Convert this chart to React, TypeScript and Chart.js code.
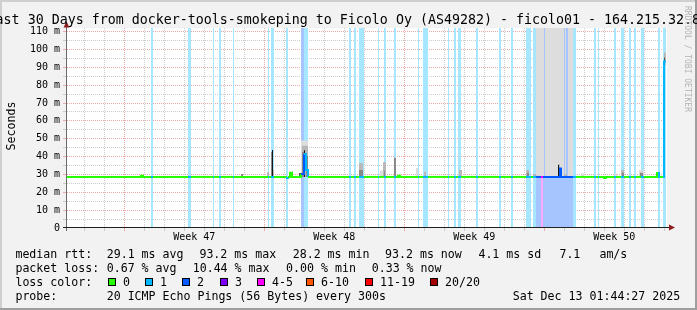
import { useEffect, useRef } from 'react';
import { Chart, registerables } from 'chart.js';

Chart.register(...registerables);

const W = 697;
const H = 310;
const MONO = '"DejaVu Sans Mono", "Liberation Mono", monospace';

// ---------------- texts ----------------
const titleText = 'Last 30 Days from docker-tools-smokeping to Ficolo Oy (AS49282) - ficolo01 - 164.215.32.8';
const yAxisTitle = 'Seconds';
const watermarkText = 'RRDTOOL / TOBI OETIKER';

// ---------------- axes ----------------
// x values are days since the start of the 30 day window
const X_MIN = 0;
const X_MAX = 30;
const Y_MIN = 0;
const Y_MAX = 112; // milliseconds
const firstMidnight = 0.865;
const sundayTicks = [2.865, 9.865, 16.865, 23.865];
const weekCenters = [6.365, 13.365, 20.365, 27.365];
const weekLabels = ['Week 47', 'Week 48', 'Week 49', 'Week 50'];
const yMajorValues = [0, 10, 20, 30, 40, 50, 60, 70, 80, 90, 100, 110];
const yMajorLabels = ['0', '10 m', '20 m', '30 m', '40 m', '50 m', '60 m', '70 m', '80 m', '90 m', '100 m', '110 m'];
const yMinorValues = [5, 15, 25, 35, 45, 55, 65, 75, 85, 95, 105];

// ---------------- loss colours ----------------
const lossLabels = ['0', '1', '2', '3', '4-5', '6-10', '11-19', '20/20'];
const lossColors = ['#26ff00', '#00b8ff', '#0059ff', '#7e00ff', '#ff00ff', '#ff5500', '#ff0000', '#a10000'];

// ---------------- packet loss periods (days) ----------------
const lossStart = [4.20, 6.05, 7.30, 7.60, 8.30, 10.05, 10.20, 10.95, 11.70, 11.85, 14.10, 14.35, 14.60, 15.55, 15.85, 16.35, 17.55, 17.80, 19.05, 19.35, 19.55, 20.45, 21.60, 22.20, 22.95, 23.30, 23.45, 23.70, 23.80, 25.30, 26.35, 26.55, 27.35, 27.70, 28.10, 28.35, 28.70, 29.55, 29.80];
const lossEnd = [4.30, 6.20, 7.35, 7.70, 8.35, 10.10, 10.35, 11.05, 11.85, 12.05, 14.20, 14.45, 14.85, 15.60, 15.95, 16.45, 17.60, 18.05, 19.10, 19.45, 19.70, 20.55, 21.70, 22.30, 23.20, 23.45, 23.70, 23.80, 25.30, 25.45, 26.45, 26.60, 27.45, 27.85, 28.20, 28.45, 28.85, 29.65, 29.95];
const lossLevel = [1, 1, 1, 1, 1, 1, 1, 1, 2, 1, 1, 1, 1, 1, 1, 1, 1, 1, 1, 1, 1, 1, 1, 1, 1, 1, 2, 4, 2, 1, 1, 1, 1, 1, 1, 1, 1, 1, 1];

// ---------------- median rtt (ms), stepwise ----------------
const medianTimes = [0, 3.70, 3.80, 10.95, 11.05, 11.15, 11.25, 11.70, 11.85, 11.95, 12.05, 16.55, 16.65, 24.65, 24.70, 26.85, 26.95, 29.50, 29.60, 29.85];
const medianValues = [28.6, 29.2, 28.6, 28.0, 28.6, 31.0, 28.6, 30.2, 41.4, 32.5, 28.6, 29.2, 28.6, 33.3, 28.6, 28.0, 28.6, 30.8, 28.6, 93.2];
const medianEnd = 29.95;

// ---------------- smoke (ping spread, ms) ----------------
const smokeStart = [8.70, 10.00, 10.20, 10.25, 10.30, 11.25, 11.60, 11.70, 11.75, 11.75, 11.85, 11.95, 14.60, 14.60, 15.65, 15.80, 15.85, 16.35, 17.45, 17.85, 19.60, 22.95, 23.00, 23.30, 23.45, 23.90, 24.90, 25.05, 24.55, 24.55, 24.85, 25.70, 27.40, 27.70, 27.75, 28.60, 28.65, 29.60, 29.85, 29.85, 29.85];
const smokeEnd = [8.80, 10.10, 10.25, 10.30, 10.35, 11.30, 11.70, 12.05, 12.05, 11.85, 11.90, 12.05, 14.80, 14.80, 15.80, 15.95, 15.90, 16.45, 17.55, 17.95, 19.75, 23.10, 23.10, 23.45, 23.85, 24.85, 24.95, 25.30, 24.65, 24.60, 25.00, 25.85, 27.50, 27.85, 27.85, 28.85, 28.80, 29.65, 29.90, 29.95, 29.90];
const smokeLo = [28.6, 28.6, 28.6, 28.6, 28.6, 28.6, 28.6, 28.6, 28.6, 28.6, 28.6, 28.6, 28.6, 28.6, 28.6, 28.6, 28.6, 28.6, 28.6, 28.6, 28.6, 28.6, 28.6, 28.6, 28.6, 28.6, 28.6, 28.6, 28.6, 28.6, 28.6, 28.6, 28.6, 28.6, 28.6, 28.6, 28.6, 28.6, 28.6, 91.0, 92.0];
const smokeHi = [30.2, 31.4, 42.6, 43.7, 32.5, 31.5, 30.8, 49.0, 46.0, 42.5, 43.5, 40.5, 36.2, 32.5, 32.2, 36.8, 32.0, 39.4, 33.6, 31.5, 32.5, 32.5, 31.0, 30.2, 112, 112, 112, 112, 35.8, 35.3, 30.3, 30.6, 30.6, 32.5, 31.0, 32.5, 31.0, 30.6, 93.0, 98.3, 95.5];
const smokeShade = [2, 1, 2, 4, 1, 4, 3, 0, 1, 2, 4, 2, 1, 2, 0, 1, 2, 2, 0, 1, 1, 1, 2, 1, 0, 0, 0, 0, 1, 4, 1, 0, 0, 1, 2, 0, 2, 4, 4, 1, 3];
const smokeColors = ['#dddddd', '#b8b8b8', '#888888', '#555555', '#161616'];

// ---------------- legend values ----------------
const rttNames = ['avg', 'max', 'min', 'now'];
const rttValues = [29.1, 93.2, 28.2, 93.2];
const rttSd = 4.1;
const rttAms = 7.1;
const lossNames = ['avg', 'max', 'min', 'now'];
const lossValues = [0.67, 10.44, 0.0, 0.33];
const probeText = '20 ICMP Echo Pings (56 Bytes) every 300s';
const stampText = 'Sat Dec 13 01:44:27 2025';

// ---------------- styles ----------------
const BACK = '#f2f2f2';
const SHADEA = '#cfcfcf';
const SHADEB = '#9e9e9e';
const CANVAS_BG = '#ffffff';
const GRID = '#cccccc';
const MGRID = '#eeaaaa';
const AXIS_X = '#202020';
const AXIS_Y = '#6a6a6a';
const ARROW = '#8f1d1d';

function lighten(hex: string, a: number) {
  const n = parseInt(hex.slice(1), 16);
  const r = (n >> 16) & 255, g = (n >> 8) & 255, b = n & 255;
  const m = (c: number) => Math.round(c * a + 255 * (1 - a));
  return `rgb(${m(r)},${m(g)},${m(b)})`;
}

const near = (a: number, b: number) => Math.abs(a - b) < 1e-6;

function buildDatasets() {
  const datasets: any[] = [];
  // loss background stripes
  const levels = Array.from(new Set(lossLevel));
  levels.forEach((lv) => {
    const idx = lossStart.map((_, i) => i).filter((i) => lossLevel[i] === lv).sort((a, b) => lossStart[a] - lossStart[b]);
    const pts: any[] = [];
    idx.forEach((i) => {
      pts.push({ x: lossStart[i], y: Y_MIN }, { x: lossStart[i], y: Y_MAX }, { x: lossEnd[i], y: Y_MAX }, { x: lossEnd[i], y: Y_MIN });
    });
    datasets.push({
      data: pts, fill: 'origin', backgroundColor: lighten(lossColors[lv], 0.35),
      borderWidth: 0, borderColor: 'rgba(0,0,0,0)', pointRadius: 0, stepped: true, order: 50,
    });
  });
  // smoke layers
  [0, 1, 2, 3, 4].forEach((sh) => {
    const idx = smokeStart.map((_, i) => i).filter((i) => smokeShade[i] === sh).sort((a, b) => smokeStart[a] - smokeStart[b]);
    if (!idx.length) return;
    const hi: any[] = [];
    const lo: any[] = [];
    idx.forEach((i) => {
      const s = smokeStart[i], e = smokeEnd[i], l = smokeLo[i], h = smokeHi[i];
      hi.push({ x: s, y: l }, { x: s, y: h }, { x: e, y: h }, { x: e, y: l });
      lo.push({ x: s, y: l }, { x: s, y: l }, { x: e, y: l }, { x: e, y: l });
    });
    datasets.push({
      data: hi, fill: '+1', backgroundColor: smokeColors[sh], borderWidth: 0,
      borderColor: 'rgba(0,0,0,0)', pointRadius: 0, stepped: true, order: 40 - sh,
    });
    datasets.push({
      data: lo, fill: false, borderWidth: 0, borderColor: 'rgba(0,0,0,0)',
      pointRadius: 0, stepped: true, order: 40 - sh,
    });
  });
  // median line coloured by loss
  const medianAt = (t: number) => {
    let v = medianValues[0];
    for (let i = 0; i < medianTimes.length; i++) if (medianTimes[i] <= t + 1e-9) v = medianValues[i];
    return v;
  };
  const levelAt = (t: number) => {
    for (let i = 0; i < lossStart.length; i++) {
      if (lossStart[i] <= t + 1e-9 && t < lossEnd[i] - 1e-9) return lossLevel[i];
    }
    return 0;
  };
  const raw = [...medianTimes, ...lossStart, ...lossEnd, medianEnd].map((t) => Math.round(t * 1000) / 1000).filter((t) => t <= medianEnd + 1e-9);
  const breaks = Array.from(new Set(raw)).sort((a, b) => a - b);
  const medianPoints = breaks.map((t) => ({ x: t, y: medianAt(t), lvl: levelAt(t) }));
  datasets.push({
    data: medianPoints, borderColor: lossColors[0], borderWidth: 2, pointRadius: 0, stepped: true,
    fill: false, order: 0, borderCapStyle: 'butt', borderJoinStyle: 'miter',
    segment: { borderColor: (c: any) => lossColors[medianPoints[c.p0DataIndex].lvl] },
  });
  return datasets;
}

const decor = {
  id: 'rrdDecor',
  beforeDraw(chart: any) {
    const { ctx, chartArea: a } = chart;
    ctx.save();
    ctx.fillStyle = BACK;
    ctx.fillRect(0, 0, W, H);
    ctx.fillStyle = SHADEA;
    ctx.fillRect(0, 0, W, 2);
    ctx.fillRect(0, 0, 2, H);
    ctx.fillStyle = SHADEB;
    ctx.fillRect(0, H - 2, W, 2);
    ctx.fillRect(W - 2, 0, 2, H);
    ctx.fillStyle = CANVAS_BG;
    ctx.fillRect(a.left, a.top, a.right - a.left, a.bottom - a.top);
    ctx.restore();
  },
  afterDatasetsDraw(chart: any) {
    const { ctx, chartArea: a } = chart;
    const y0 = Math.round(chart.scales.y.getPixelForValue(Y_MIN)) + 0.5 - 0; 
    const ax = a.left - 0.5;
    const bx = y0 - 1;
    ctx.save();
    ctx.lineWidth = 1;
    ctx.strokeStyle = AXIS_Y;
    ctx.beginPath();
    ctx.moveTo(ax, a.top - 1);
    ctx.lineTo(ax, bx + 3.5);
    ctx.stroke();
    ctx.strokeStyle = AXIS_X;
    ctx.beginPath();
    ctx.moveTo(a.left - 4, bx);
    ctx.lineTo(a.right + 3, bx);
    ctx.stroke();
    ctx.fillStyle = ARROW;
    ctx.beginPath();
    ctx.moveTo(ax, a.top - 6.5);
    ctx.lineTo(ax - 3, a.top - 0.5);
    ctx.lineTo(ax + 3, a.top - 0.5);
    ctx.closePath();
    ctx.fill();
    ctx.beginPath();
    ctx.moveTo(a.right + 8, bx);
    ctx.lineTo(a.right + 2, bx - 3);
    ctx.lineTo(a.right + 2, bx + 3);
    ctx.closePath();
    ctx.fill();
    ctx.restore();
  },
  afterDraw(chart: any) {
    const ctx = chart.ctx;
    ctx.save();
    ctx.fillStyle = '#000';
    ctx.textAlign = 'left';
    ctx.textBaseline = 'alphabetic';
    ctx.font = `13.3px ${MONO}`;
    ctx.fillText(titleText, -12.4, 24);

    ctx.font = `11.6px ${MONO}`;
    ctx.save();
    ctx.translate(15, 126);
    ctx.rotate(-Math.PI / 2);
    ctx.textAlign = 'center';
    ctx.fillText(yAxisTitle, 0, 0);
    ctx.restore();

    ctx.save();
    ctx.fillStyle = '#b4b4b4';
    ctx.font = `8px ${MONO}`;
    ctx.translate(685, 59);
    ctx.rotate(Math.PI / 2);
    ctx.textAlign = 'center';
    ctx.fillText(watermarkText, 0, 0);
    ctx.restore();

    // legend rows
    const row1 = [
      ...rttValues.map((v, i) => `${v.toFixed(1)} ms ${rttNames[i]}`),
      `${rttSd.toFixed(1)} ms sd`, rttAms.toFixed(1), 'am/s',
    ];
    const row1X = [106.7, 199.4, 292.7, 385.0, 478.4, 559.4, 599.4];
    const row2 = lossValues.map((v, i) => `${v.toFixed(2)} % ${lossNames[i]}`);
    const row2X = [106.7, 192.7, 286.1, 371.7];
    ctx.fillText('median rtt:', 15.4, 258);
    row1.forEach((t, i) => ctx.fillText(t, row1X[i], 258));
    ctx.fillText('packet loss:', 15.4, 272);
    row2.forEach((t, i) => ctx.fillText(t, row2X[i], 272));
    ctx.fillText('loss color:', 15.4, 286);
    const boxX = [108, 145, 182, 220, 257, 306, 365, 430];
    lossLabels.forEach((lab, i) => {
      ctx.fillStyle = '#000';
      ctx.fillRect(boxX[i], 278, 8, 8);
      ctx.fillStyle = lossColors[i];
      ctx.fillRect(boxX[i] + 1, 279, 6, 6);
      ctx.fillStyle = '#000';
      ctx.fillText(lab, boxX[i] + 15, 286);
    });
    ctx.fillText('probe:', 15.4, 300);
    ctx.fillText(probeText, 106.7, 300);
    ctx.fillText(stampText, 512.7, 300);
    ctx.restore();
  },
};

export default function App() {
  const ref = useRef<HTMLCanvasElement>(null);
  useEffect(() => {
    const dayTicks: number[] = [];
    for (let t = firstMidnight; t < X_MAX; t += 1) dayTicks.push(Math.round(t * 1000) / 1000);
    const isWeekCenter = (v: number) => weekCenters.some((w) => near(w, v));
    const isSunday = (v: number) => sundayTicks.some((w) => near(w, v));
    const xGrid = (v: number) => (isWeekCenter(v) ? 'rgba(0,0,0,0)' : isSunday(v) ? MGRID : GRID);
    const yGrid = (v: number) => (near(v, 0) ? 'rgba(0,0,0,0)' : yMajorValues.includes(v) ? MGRID : GRID);

    const chart = new Chart(ref.current as HTMLCanvasElement, {
      type: 'line',
      data: { datasets: buildDatasets() },
      plugins: [decor],
      options: {
        animation: false,
        responsive: false,
        devicePixelRatio: 1,
        events: [],
        layout: { padding: { left: 0, right: 30, top: 28, bottom: 62 } },
        plugins: { legend: { display: false }, tooltip: { enabled: false }, title: { display: false } },
        scales: {
          x: {
            type: 'linear',
            min: X_MIN,
            max: X_MAX,
            afterBuildTicks: (s: any) => {
              s.ticks = [...dayTicks, ...weekCenters].sort((a, b) => a - b).map((v) => ({ value: v }));
            },
            afterFit: (s: any) => { s.height = 20; },
            ticks: {
              autoSkip: false, maxRotation: 0, minRotation: 0, padding: 0, color: '#000',
              font: { family: MONO, size: 10 },
              callback: (v: any) => {
                const i = weekCenters.findIndex((w) => near(w, Number(v)));
                return i >= 0 ? weekLabels[i] : '';
              },
            },
            grid: {
              color: (c: any) => xGrid(c.tick ? c.tick.value : -1),
              tickColor: (c: any) => xGrid(c.tick ? c.tick.value : -1),
              tickLength: 3, lineWidth: 1,
            },
            border: { display: false, dash: [1, 1] },
          },
          y: {
            type: 'linear',
            min: Y_MIN,
            max: Y_MAX,
            afterBuildTicks: (s: any) => {
              s.ticks = [...yMajorValues, ...yMinorValues].sort((a, b) => a - b).map((v) => ({ value: v }));
            },
            afterFit: (s: any) => { s.width = 67; },
            ticks: {
              autoSkip: false, padding: 3, color: '#000', font: { family: MONO, size: 10 },
              callback: (v: any) => {
                const i = yMajorValues.indexOf(Number(v));
                return i >= 0 ? yMajorLabels[i] : '';
              },
            },
            grid: {
              color: (c: any) => yGrid(c.tick ? c.tick.value : -1),
              tickColor: (c: any) => yGrid(c.tick ? c.tick.value : -1),
              tickLength: 4, lineWidth: 1,
            },
            border: { display: false, dash: [1, 1] },
          },
        },
      } as any,
    });
    return () => chart.destroy();
  }, []);
  return (
    <div style={{ position: 'absolute', left: 0, top: 0, width: W, height: H }}>
      <canvas ref={ref} width={W} height={H} style={{ display: 'block', width: W, height: H }} />
    </div>
  );
}
